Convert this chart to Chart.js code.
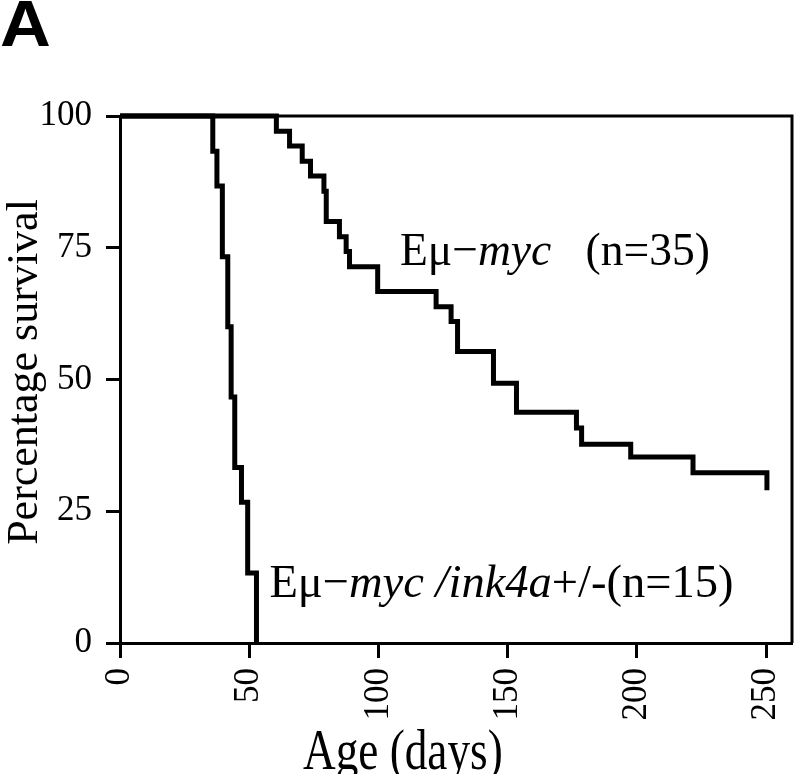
<!DOCTYPE html>
<html>
<head>
<meta charset="utf-8">
<script src="https://cdn.jsdelivr.net/npm/chart.js@4.4.1/dist/chart.umd.min.js"></script>
<style>
  body { margin: 0; background: #fff; }
  canvas { display: block; }
</style>
</head>
<body>
<canvas id="survivalChart" width="800" height="774"></canvas>
<script>
// Kaplan-Meier steps (day of drop, survival after drop)
const mycDays = [0, 60.5, 65.6, 70.5, 73.7, 78.9, 79.8, 84.9, 87.5, 88.8, 99.7, 122.3, 128.1, 130.6, 144.5, 153.4, 176.6, 178.6, 197.6, 221.7, 250.3];
const mycSurvival = [100, 97.1, 94.3, 91.4, 88.6, 85.7, 80.0, 77.1, 74.3, 71.4, 66.7, 63.8, 61.0, 55.3, 49.3, 43.8, 40.8, 37.7, 35.3, 32.3, 29.0];

const inkDays = [0, 35.9, 37.5, 39.6, 41.7, 43.0, 44.4, 47.0, 49.4, 52.8];
const inkSurvival = [100, 93.3, 86.7, 73.3, 60.0, 46.7, 33.3, 26.7, 13.3, 0];

const xTicks = [0, 50, 100, 150, 200, 250];
const yTicks = [0, 25, 50, 75, 100];

const panelLabel = 'A';
const xTitle = 'Age (days)';
const yTitle = 'Percentage survival';
// label runs: [text, italic]
const mycLabel = [['Eμ−', false], ['myc', true], ['   (n=35)', false]];
const inkLabel = [['Eμ−', false], ['myc /ink4a', true], ['+/-(n=15)', false]];

const serif = '"Liberation Serif", "Times New Roman", serif';

function toPoints(xs, ys) {
    return xs.map((x, i) => ({ x: x, y: ys[i] }));
}

function drawRuns(ctx, runs, x, y, size, sx) {
    ctx.save();
    ctx.translate(x, y);
    ctx.scale(sx, 1);
    ctx.textBaseline = 'alphabetic';
    ctx.textAlign = 'left';
    let cx = 0;
    runs.forEach(r => {
        ctx.font = (r[1] ? 'italic ' : '') + size + 'px ' + serif;
        ctx.fillText(r[0], cx, 0);
        cx += ctx.measureText(r[0]).width;
    });
    ctx.restore();
}

// box top + right, the library only draws the left and bottom borders
const framePlugin = {
    id: 'frame',
    afterDraw(chart) {
        const a = chart.chartArea;
        const ctx = chart.ctx;
        ctx.save();
        ctx.strokeStyle = '#000';
        ctx.lineWidth = 3;
        ctx.beginPath();
        ctx.moveTo(a.left, a.top);
        ctx.lineTo(a.right, a.top);
        ctx.lineTo(a.right, a.bottom);
        ctx.stroke();
        ctx.restore();
    }
};

const textPlugin = {
    id: 'texts',
    afterDraw(chart) {
        const ctx = chart.ctx;
        const xs = chart.scales.x;
        const ys = chart.scales.y;
        ctx.save();
        ctx.fillStyle = '#000';

        ctx.save();
        ctx.translate(0, 46);
        ctx.scale(1.1, 1);
        ctx.font = 'bold 64px "Liberation Sans", Arial, sans-serif';
        ctx.textBaseline = 'alphabetic';
        ctx.fillText(panelLabel, 0, 0);
        ctx.restore();

        // curve labels anchored in data space
        drawRuns(ctx, mycLabel, xs.getPixelForValue(108.3), ys.getPixelForValue(71.7), 47, 0.97);
        drawRuns(ctx, inkLabel, xs.getPixelForValue(57.8), ys.getPixelForValue(8.8), 47, 0.99);

        // axis titles
        drawRuns(ctx, [[xTitle, false]], 303, 769, 58, 0.78);

        ctx.save();
        ctx.translate(37, 372);
        ctx.rotate(-Math.PI / 2);
        ctx.font = '44px ' + serif;
        ctx.textAlign = 'center';
        ctx.textBaseline = 'alphabetic';
        ctx.fillText(yTitle, 0, 0);
        ctx.restore();

        ctx.restore();
    }
};

const curveStyle = {
    stepped: true,
    borderColor: '#000',
    borderWidth: 5,
    borderJoinStyle: 'miter',
    borderCapStyle: 'butt',
    pointRadius: 0,
    fill: false,
    clip: false
};

const tickFont = { family: serif, size: 35 };

new Chart(document.getElementById('survivalChart').getContext('2d'), {
    type: 'line',
    data: {
        datasets: [
            Object.assign({ label: 'Eμ-myc', data: toPoints(mycDays, mycSurvival) }, curveStyle),
            Object.assign({ label: 'Eμ-myc/ink4a+/-', data: toPoints(inkDays, inkSurvival) }, curveStyle)
        ]
    },
    options: {
        responsive: false,
        animation: false,
        devicePixelRatio: 1,
        layout: { padding: { top: 116, right: 8, left: 0, bottom: 0 } },
        plugins: {
            legend: { display: false },
            tooltip: { enabled: false }
        },
        scales: {
            x: {
                type: 'linear',
                min: 0,
                max: 260,
                afterBuildTicks: scale => { scale.ticks = xTicks.map(v => ({ value: v })); },
                afterFit: scale => {
                    scale.height = 131;
                    scale.paddingLeft = 0;
                    scale.paddingRight = 0;
                },
                ticks: {
                    font: tickFont,
                    color: '#000',
                    minRotation: 90,
                    maxRotation: 90,
                    autoSkip: false,
                    padding: 10
                },
                grid: {
                    drawOnChartArea: false,
                    tickLength: 15,
                    tickWidth: 3,
                    tickColor: '#000'
                },
                border: { color: '#000', width: 3 }
            },
            y: {
                type: 'linear',
                min: 0,
                max: 100,
                afterBuildTicks: scale => { scale.ticks = yTicks.map(v => ({ value: v })); },
                afterFit: scale => {
                    scale.width = 120;
                    scale.paddingTop = 0;
                    scale.paddingBottom = 0;
                },
                ticks: {
                    font: tickFont,
                    color: '#000',
                    padding: 14
                },
                grid: {
                    drawOnChartArea: false,
                    tickLength: 14,
                    tickWidth: 3,
                    tickColor: '#000'
                },
                border: { color: '#000', width: 3 }
            }
        }
    },
    plugins: [framePlugin, textPlugin]
});
</script>
</body>
</html>
